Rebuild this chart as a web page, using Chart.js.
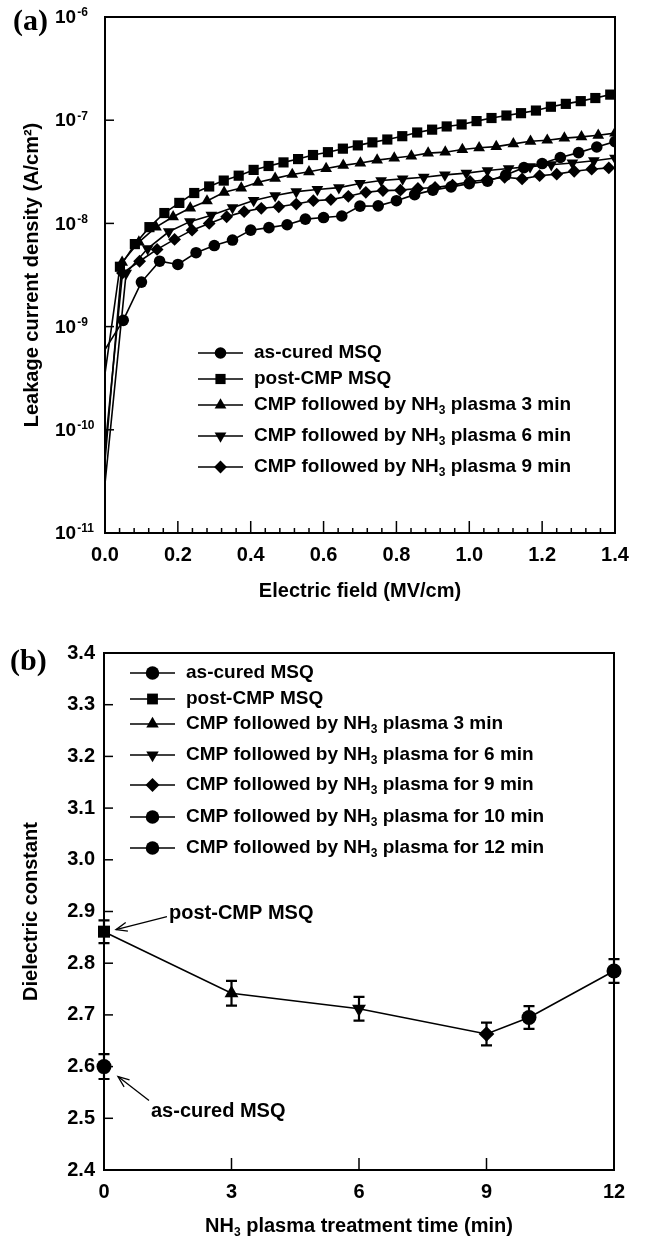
<!DOCTYPE html>
<html>
<head>
<meta charset="utf-8">
<script src="https://cdn.jsdelivr.net/npm/chart.js@4.4.0/dist/chart.umd.min.js"></script>
<style>
  html, body { margin: 0; padding: 0; background: #fff; }
  #wrapA { position: absolute; left: 0; top: 0; width: 645px; height: 610px; }
  #wrapB { position: absolute; left: 0; top: 610px; width: 645px; height: 629px; }
</style>
</head>
<body>
<div id="wrapA"><canvas id="chartA" width="645" height="610"></canvas></div>
<div id="wrapB"><canvas id="chartB" width="645" height="629"></canvas></div>
<script>
// ---- panel (a): leakage current vs electric field ----
const fieldCured = [0, 0.05, 0.10, 0.15, 0.20, 0.25, 0.30, 0.35, 0.40, 0.45, 0.50, 0.55, 0.60, 0.65, 0.70,
  0.75, 0.80, 0.85, 0.90, 0.95, 1.00, 1.05, 1.10, 1.15, 1.20, 1.25, 1.30, 1.35, 1.40];
const jCured = [6e-10, 1.15e-9, 2.7e-9, 4.3e-9, 4.0e-9, 5.2e-9, 6.1e-9, 6.9e-9, 8.6e-9, 9.1e-9, 9.7e-9,
  1.1e-8, 1.14e-8, 1.18e-8, 1.47e-8, 1.48e-8, 1.66e-8, 1.9e-8, 2.1e-8, 2.26e-8, 2.43e-8, 2.56e-8,
  2.94e-8, 3.47e-8, 3.8e-8, 4.35e-8, 4.85e-8, 5.5e-8, 6.2e-8];

const fieldCMP = [0, 0.041, 0.082, 0.122, 0.163, 0.204, 0.245, 0.286, 0.326, 0.367, 0.408, 0.449, 0.490,
  0.530, 0.571, 0.612, 0.653, 0.694, 0.734, 0.775, 0.816, 0.857, 0.898, 0.938, 0.979, 1.020, 1.061,
  1.102, 1.142, 1.183, 1.224, 1.265, 1.306, 1.346, 1.387];
const jCMP = [3.5e-10, 3.8e-9, 6.3e-9, 9.2e-9, 1.26e-8, 1.58e-8, 1.97e-8, 2.28e-8, 2.6e-8, 2.9e-8, 3.3e-8,
  3.6e-8, 3.9e-8, 4.2e-8, 4.6e-8, 4.9e-8, 5.3e-8, 5.7e-8, 6.1e-8, 6.5e-8, 7.0e-8, 7.6e-8, 8.1e-8,
  8.7e-8, 9.1e-8, 9.8e-8, 1.05e-7, 1.11e-7, 1.17e-7, 1.24e-7, 1.35e-7, 1.44e-7, 1.53e-7, 1.64e-7, 1.77e-7];

const fieldNH3min = [0, 0.047, 0.093, 0.140, 0.187, 0.234, 0.280, 0.327, 0.374, 0.420, 0.467, 0.514, 0.560,
  0.607, 0.654, 0.701, 0.747, 0.794, 0.841, 0.887, 0.934, 0.981, 1.027, 1.074, 1.121, 1.168, 1.214,
  1.261, 1.308, 1.354, 1.400];
const jNH3min = [5e-11, 4.2e-9, 6.6e-9, 9.2e-9, 1.16e-8, 1.41e-8, 1.65e-8, 2.0e-8, 2.2e-8, 2.5e-8, 2.73e-8,
  2.98e-8, 3.16e-8, 3.4e-8, 3.65e-8, 3.85e-8, 4.1e-8, 4.3e-8, 4.5e-8, 4.8e-8, 4.9e-8, 5.2e-8, 5.4e-8,
  5.55e-8, 5.9e-8, 6.25e-8, 6.4e-8, 6.7e-8, 6.9e-8, 7.15e-8, 7.5e-8];

const fieldNH6min = [0, 0.058, 0.117, 0.175, 0.233, 0.292, 0.350, 0.408, 0.467, 0.525, 0.583, 0.642, 0.700,
  0.758, 0.817, 0.875, 0.933, 0.992, 1.050, 1.108, 1.167, 1.225, 1.283, 1.342, 1.400];
const jNH6min = [3e-11, 3.3e-9, 5.7e-9, 8.3e-9, 1.04e-8, 1.2e-8, 1.42e-8, 1.67e-8, 1.86e-8, 2.03e-8, 2.13e-8,
  2.22e-8, 2.44e-8, 2.6e-8, 2.7e-8, 2.8e-8, 2.95e-8, 3.07e-8, 3.25e-8, 3.4e-8, 3.55e-8, 3.7e-8,
  3.85e-8, 4.05e-8, 4.3e-8];

const fieldNH9min = [0, 0.048, 0.095, 0.143, 0.191, 0.239, 0.286, 0.334, 0.382, 0.429, 0.477, 0.525, 0.572,
  0.620, 0.668, 0.716, 0.763, 0.811, 0.859, 0.906, 0.954, 1.002, 1.049, 1.097, 1.145, 1.193, 1.240,
  1.288, 1.336, 1.383];
const jNH9min = [6.5e-11, 3.3e-9, 4.3e-9, 5.6e-9, 7.0e-9, 8.6e-9, 1.0e-8, 1.16e-8, 1.3e-8, 1.4e-8, 1.45e-8,
  1.54e-8, 1.66e-8, 1.7e-8, 1.83e-8, 2.0e-8, 2.08e-8, 2.1e-8, 2.18e-8, 2.23e-8, 2.35e-8, 2.55e-8,
  2.65e-8, 2.8e-8, 2.7e-8, 2.9e-8, 3.0e-8, 3.2e-8, 3.35e-8, 3.45e-8];

const labelsA = ['as-cured MSQ', 'post-CMP MSQ', 'CMP followed by NH_3 plasma 3 min',
  'CMP followed by NH_3 plasma 6 min', 'CMP followed by NH_3 plasma 9 min'];

// ---- panel (b): dielectric constant vs NH3 treatment time ----
const labelsB = ['as-cured MSQ', 'post-CMP MSQ', 'CMP followed by NH_3 plasma 3 min',
  'CMP followed by NH_3 plasma for 6 min', 'CMP followed by NH_3 plasma for 9 min',
  'CMP followed by NH_3 plasma for 10 min', 'CMP followed by NH_3 plasma for 12 min'];
const treatTime = [0, 0, 3, 6, 9, 10, 12];
const kValue = [2.600, 2.861, 2.742, 2.712, 2.663, 2.695, 2.785];
const kError = [0.024, 0.022, 0.024, 0.023, 0.022, 0.022, 0.023];

const FONT = '"Liberation Sans", Arial, Helvetica, sans-serif';
Chart.defaults.font.family = FONT;
Chart.defaults.color = '#000';

function pointStyleOf(shape) { return shape === 'triangleDown' ? 'triangle' : shape; }

function drawMarker(ctx, shape, r, x, y) {
  ctx.beginPath();
  if (shape === 'circle') {
    ctx.arc(x, y, r, 0, Math.PI * 2);
  } else if (shape === 'rect') {
    const s = r * Math.SQRT1_2;
    ctx.rect(x - s, y - s, 2 * s, 2 * s);
  } else if (shape === 'rectRot') {
    ctx.moveTo(x - r, y); ctx.lineTo(x, y - r); ctx.lineTo(x + r, y); ctx.lineTo(x, y + r);
    ctx.closePath();
  } else {
    const d = shape === 'triangle' ? 1 : -1;
    ctx.moveTo(x, y - d * r);
    ctx.lineTo(x + r * 0.866, y + d * r * 0.5);
    ctx.lineTo(x - r * 0.866, y + d * r * 0.5);
    ctx.closePath();
  }
  ctx.fill();
}

// text with "_3" style subscripts
function richWidth(ctx, text, size) {
  let w = 0;
  text.split(/_(\d)/).forEach((s, i) => {
    if (!s) return;
    ctx.font = 'bold ' + (i % 2 ? Math.round(size * 0.62) : size) + 'px ' + FONT;
    w += ctx.measureText(s).width;
  });
  return w;
}
function drawRich(ctx, text, x, y, size) {
  let cx = x;
  ctx.textAlign = 'left';
  ctx.textBaseline = 'middle';
  text.split(/_(\d)/).forEach((s, i) => {
    if (!s) return;
    const sub = i % 2 === 1;
    ctx.font = 'bold ' + (sub ? Math.round(size * 0.62) : size) + 'px ' + FONT;
    ctx.fillText(s, cx, sub ? y + size * 0.32 : y);
    cx += ctx.measureText(s).width;
  });
}

// frame, inward tick marks, legend and panel letter
function decorations(cfg) {
  return {
    id: 'decorations',
    beforeDatasetsDraw(chart) {
      const {ctx, chartArea: a, scales} = chart;
      ctx.save();
      ctx.strokeStyle = '#000';
      ctx.lineWidth = 1.5;
      scales.x.ticks.forEach(t => {
        const px = scales.x.getPixelForValue(t.value);
        const len = cfg.xTickLen(t.value);
        ctx.beginPath(); ctx.moveTo(px, a.bottom); ctx.lineTo(px, a.bottom - len); ctx.stroke();
      });
      scales.y.ticks.forEach(t => {
        const py = scales.y.getPixelForValue(t.value);
        ctx.beginPath(); ctx.moveTo(a.left, py); ctx.lineTo(a.left + cfg.yTickLen, py); ctx.stroke();
      });
      ctx.lineWidth = 2;
      ctx.strokeRect(a.left, a.top, a.right - a.left, a.bottom - a.top);
      ctx.restore();
    },
    afterDraw(chart) {
      const ctx = chart.ctx;
      ctx.save();
      ctx.fillStyle = '#000';
      ctx.strokeStyle = '#000';
      const lg = cfg.legend;
      lg.items.forEach((it, i) => {
        const y = lg.rows[i];
        ctx.lineWidth = 1.6;
        ctx.beginPath(); ctx.moveTo(lg.x, y); ctx.lineTo(lg.x + lg.len, y); ctx.stroke();
        drawMarker(ctx, it.shape, it.r, lg.x + lg.len / 2, y);
        drawRich(ctx, it.label, lg.textX, y, lg.size);
      });
      ctx.font = 'bold 30px "Liberation Serif", "Times New Roman", serif';
      ctx.textAlign = 'left';
      ctx.textBaseline = 'middle';
      ctx.fillText(cfg.letter.text, cfg.letter.x, cfg.letter.y);
      if (cfg.extra) cfg.extra(chart);
      ctx.restore();
    }
  };
}

// ---------- chart (a) ----------
const seriesA = [
  {x: fieldCured, y: jCured, shape: 'circle', r: 5.8},
  {x: fieldCMP, y: jCMP, shape: 'rect', r: 7.2},
  {x: fieldNH3min, y: jNH3min, shape: 'triangle', r: 6.8},
  {x: fieldNH6min, y: jNH6min, shape: 'triangleDown', r: 6.8},
  {x: fieldNH9min, y: jNH9min, shape: 'rectRot', r: 6.4}
];

function isDecade(v) {
  const l = Math.log10(v);
  return Math.abs(l - Math.round(l)) < 1e-6;
}

new Chart(document.getElementById('chartA'), {
  type: 'scatter',
  data: {
    datasets: seriesA.map((s, i) => ({
      label: labelsA[i],
      data: s.x.map((x, j) => ({x: x, y: s.y[j]})),
      showLine: true,
      borderColor: '#000',
      backgroundColor: '#000',
      borderWidth: 1.6,
      pointStyle: pointStyleOf(s.shape),
      pointRotation: s.shape === 'triangleDown' ? 180 : 0,
      pointRadius: c => (c.raw && c.raw.x === 0) ? 0 : s.r,
      pointBorderWidth: 0
    }))
  },
  options: {
    responsive: false,
    animation: false,
    events: [],
    layout: {padding: {left: 0, top: 17, right: 30, bottom: 0}},
    plugins: {legend: {display: false}, tooltip: {enabled: false}},
    scales: {
      x: {
        type: 'linear', min: 0, max: 1.4,
        afterFit: s => { s.height = 77; },
        grid: {display: false, drawTicks: false},
        border: {display: false},
        ticks: {
          stepSize: 0.04, autoSkip: false, maxRotation: 0, padding: 10,
          font: {size: 20, weight: 'bold'},
          callback: v => Math.abs(v * 5 - Math.round(v * 5)) < 1e-6 ? v.toFixed(1) : ''
        },
        title: {display: true, text: 'Electric field (MV/cm)', font: {size: 20, weight: 'bold'},
          padding: {top: 0, bottom: 7}}
      },
      y: {
        type: 'logarithmic', min: 1e-11, max: 1e-6,
        afterFit: s => { s.width = 105; },
        afterBuildTicks: s => { s.ticks = s.ticks.filter(t => isDecade(t.value)); },
        grid: {display: false, drawTicks: false},
        border: {display: false},
        ticks: {callback: () => '', padding: 0},
        title: {display: true, text: 'Leakage current density (A/cm\u00B2)', font: {size: 20, weight: 'bold'},
          padding: {top: 20, bottom: 0}}
      }
    }
  },
  plugins: [decorations({
    xTickLen: v => Math.abs(v * 5 - Math.round(v * 5)) < 1e-6 ? 12 : 5,
    yTickLen: 9,
    letter: {text: '(a)', x: 13, y: 22},
    legend: {
      x: 198, len: 45, textX: 254, size: 19,
      rows: [353, 379, 405, 436, 467],
      items: seriesA.map((s, i) => ({shape: s.shape, r: s.r, label: labelsA[i]}))
    },
    extra(chart) {
      // decade labels 10^n with raised exponent
      const ctx = chart.ctx, ys = chart.scales.y;
      ys.ticks.forEach(t => {
        const py = ys.getPixelForValue(t.value);
        const e = Math.round(Math.log10(t.value));
        ctx.textAlign = 'left';
        ctx.textBaseline = 'middle';
        ctx.font = 'bold 19px ' + FONT;
        ctx.fillText('10', 55, py + 1);
        const w = ctx.measureText('10').width;
        ctx.font = 'bold 12px ' + FONT;
        ctx.fillText(String(e), 56 + w, py - 4);
      });
    }
  })]
});

// ---------- chart (b) ----------
const shapesB = ['circle', 'rect', 'triangle', 'triangleDown', 'rectRot', 'circle', 'circle'];
const radiusB = [7.5, 8.5, 8, 8, 7.8, 7.5, 7.5];

const pointSets = treatTime.map((t, i) => ({
  label: labelsB[i],
  data: [{x: t, y: kValue[i]}],
  backgroundColor: '#000',
  borderColor: '#000',
  pointStyle: pointStyleOf(shapesB[i]),
  pointRotation: shapesB[i] === 'triangleDown' ? 180 : 0,
  pointRadius: radiusB[i],
  pointBorderWidth: 0,
  clip: false,
  order: 0
}));
const trendSet = {
  label: 'trend',
  data: treatTime.slice(1).map((t, i) => ({x: t, y: kValue[i + 1]})),
  showLine: true,
  borderColor: '#000',
  borderWidth: 1.6,
  pointRadius: 0,
  clip: false,
  order: 1
};

function arrow(ctx, x1, y1, x2, y2) {
  const ang = Math.atan2(y2 - y1, x2 - x1);
  ctx.lineWidth = 1.3;
  ctx.beginPath(); ctx.moveTo(x1, y1); ctx.lineTo(x2, y2); ctx.stroke();
  ctx.beginPath();
  ctx.moveTo(x2 - 12 * Math.cos(ang - 0.38), y2 - 12 * Math.sin(ang - 0.38));
  ctx.lineTo(x2, y2);
  ctx.lineTo(x2 - 12 * Math.cos(ang + 0.38), y2 - 12 * Math.sin(ang + 0.38));
  ctx.stroke();
}

new Chart(document.getElementById('chartB'), {
  type: 'scatter',
  data: {datasets: [...pointSets, trendSet]},
  options: {
    responsive: false,
    animation: false,
    events: [],
    layout: {padding: {left: 0, top: 43, right: 31, bottom: 0}},
    plugins: {legend: {display: false}, tooltip: {enabled: false}},
    scales: {
      x: {
        type: 'linear', min: 0, max: 12,
        afterFit: s => { s.height = 69; },
        grid: {display: false, drawTicks: false},
        border: {display: false},
        ticks: {stepSize: 3, maxRotation: 0, padding: 10, font: {size: 20, weight: 'bold'}}
      },
      y: {
        type: 'linear', min: 2.4, max: 3.4,
        afterFit: s => { s.width = 104; },
        grid: {display: false, drawTicks: false},
        border: {display: false},
        ticks: {stepSize: 0.1, padding: 9, font: {size: 20, weight: 'bold'}, callback: v => v.toFixed(1)},
        title: {display: true, text: 'Dielectric constant', font: {size: 20, weight: 'bold'},
          padding: {top: 19, bottom: 0}}
      }
    }
  },
  plugins: [decorations({
    xTickLen: v => 12,
    yTickLen: 9,
    letter: {text: '(b)', x: 10, y: 52},
    legend: {
      x: 130, len: 45, textX: 186, size: 19,
      rows: [63, 89, 114, 145, 175, 207, 238],
      items: shapesB.map((s, i) => ({shape: s, r: radiusB[i] * 0.9, label: labelsB[i]}))
    },
    extra(chart) {
      const ctx = chart.ctx, xs = chart.scales.x, ys = chart.scales.y;
      // error bars
      ctx.lineWidth = 2.2;
      treatTime.forEach((t, i) => {
        const px = xs.getPixelForValue(t);
        const top = ys.getPixelForValue(kValue[i] + kError[i]);
        const bot = ys.getPixelForValue(kValue[i] - kError[i]);
        ctx.beginPath();
        ctx.moveTo(px, top); ctx.lineTo(px, bot);
        ctx.moveTo(px - 5.5, top); ctx.lineTo(px + 5.5, top);
        ctx.moveTo(px - 5.5, bot); ctx.lineTo(px + 5.5, bot);
        ctx.stroke();
      });
      // callouts
      const pc = {x: xs.getPixelForValue(treatTime[1]), y: ys.getPixelForValue(kValue[1])};
      const ac = {x: xs.getPixelForValue(treatTime[0]), y: ys.getPixelForValue(kValue[0])};
      arrow(ctx, pc.x + 63, pc.y - 15, pc.x + 12, pc.y - 2);
      arrow(ctx, ac.x + 45, ac.y + 34, ac.x + 14, ac.y + 10);
      ctx.font = 'bold 20px ' + FONT;
      ctx.textAlign = 'left';
      ctx.textBaseline = 'alphabetic';
      ctx.fillText(labelsB[1], pc.x + 65, pc.y - 13);
      ctx.fillText(labelsB[0], ac.x + 47, ac.y + 50);
      // x axis title with subscript
      const title = 'NH_3 plasma treatment time (min)';
      const w = richWidth(ctx, title, 20);
      drawRich(ctx, title, (chart.chartArea.left + chart.chartArea.right) / 2 - w / 2, 616, 20);
    }
  })]
});
</script>
</body>
</html>
